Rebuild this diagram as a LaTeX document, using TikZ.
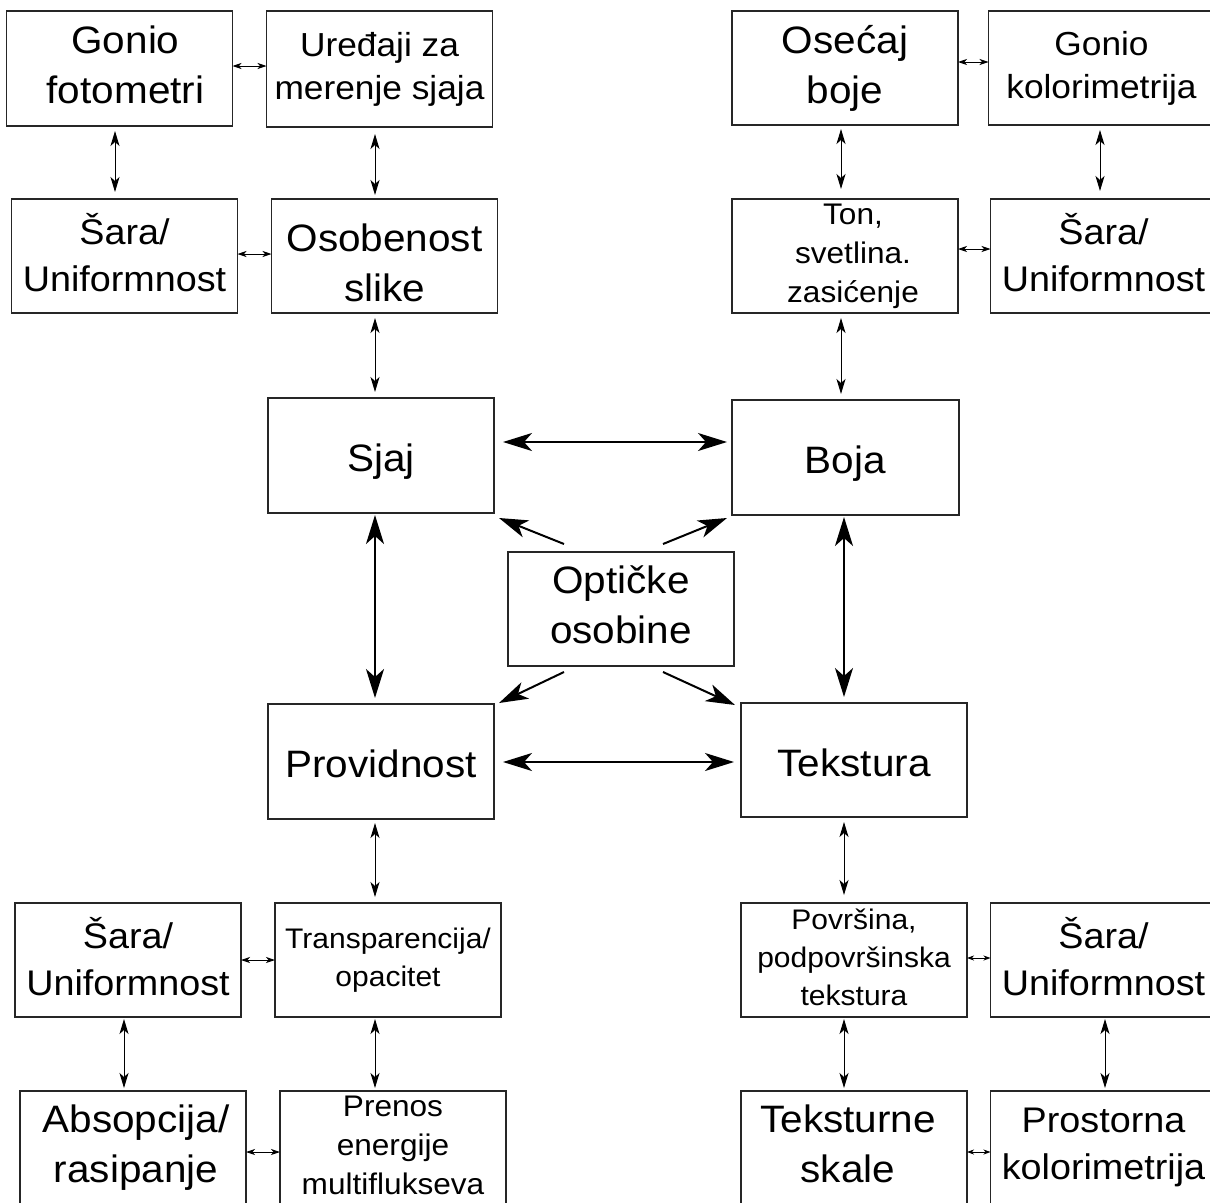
\documentclass[tikz,border=0pt]{standalone}
\usepackage{fontspec}
\setmainfont{Liberation Sans}[FakeStretch=1.06]
\usetikzlibrary{arrows.meta}
\newcommand{\lsh}[1]{\hspace*{#1}}
\begin{document}
\begin{tikzpicture}[x=1pt,y=-1pt,
  bx/.style={draw=black!85, line width=1.1pt, minimum width=226pt, minimum height=115pt,
    inner sep=0pt, outer sep=0pt, align=center,
    execute at begin node={\rule{0pt}{1.05em}},
    execute at end node={\rule[-0.212em]{0pt}{0pt}}},
  fa/.style={bx, font=\fontsize{38.2}{50}\selectfont},
  fb/.style={bx, font=\fontsize{35.6}{47}\selectfont},
  fc/.style={bx, font=\fontsize{33.3}{43}\selectfont},
  fd/.style={bx, font=\fontsize{29.8}{39}\selectfont},
  fe/.style={bx, font=\fontsize{28.3}{38}\selectfont},
  sv/.style={{Stealth[length=15pt,width=9pt,inset=4pt]}-{Stealth[length=15pt,width=9pt,inset=4pt]}, line width=1pt},
  th/.style={{Stealth[length=9pt,width=6pt,inset=2.5pt]}-{Stealth[length=9pt,width=6pt,inset=2.5pt]}, line width=0.9pt},
  tt/.style={{Stealth[length=7pt,width=5pt,inset=2pt]}-{Stealth[length=7pt,width=5pt,inset=2pt]}, line width=0.9pt},
  bv/.style={{Stealth[length=29pt,width=18pt,inset=8pt]}-{Stealth[length=29pt,width=18pt,inset=8pt]}, line width=2pt},
  bd/.style={-{Stealth[length=29pt,width=18pt,inset=8pt]}, line width=2pt}
]
\clip (0,0) rectangle (1210,1202);
\fill[white] (0,0) rectangle (1210,1202);

% top-left group
\node[fa] (gon) at (119.5,68.5) {\lsh{12pt}Gonio\\\lsh{12pt}fotometri};
\node[fc, minimum height=116pt] (ure) at (379.5,69) {Uređaji za\\merenje sjaja};
\node[fb, minimum height=114pt] (sar1) at (124.5,256) {Šara/\\Uniformnost};
\node[fa, minimum height=114pt] (oso) at (384.5,256) {\rule{0pt}{1.3em}Osobenost\\slike};

% top-right group
\node[fa, minimum height=114pt] (ose) at (845,68) {Osećaj\\boje};
\node[fc, minimum height=114pt] (gko) at (1101.5,68) {Gonio\\kolorimetrija};
\node[fd, minimum height=114pt] (ton) at (845,256) {\lsh{16pt}Ton,\\\lsh{16pt}svetlina.\\\lsh{16pt}zasićenje};
\node[fb, minimum height=114pt] (sar2) at (1103.5,256) {Šara/\\Uniformnost};

% centre
\node[fa] (sjaj) at (381,455.5) {Sjaj};
\node[fa, minimum width=227pt] (boja) at (845.5,457.5) {Boja};
\node[fa, minimum height=114pt] (opt) at (621,609) {Optičke\\osobine};
\node[fa] (prov) at (381,761.5) {Providnost};
\node[fa, minimum height=114pt] (tek) at (854,760) {Tekstura};

% bottom-left group
\node[fb, minimum height=114pt] (sar3) at (128,960) {Šara/\\Uniformnost};
\node[fe, minimum height=114pt] (tra) at (388,960) {Transparencija/\\opacitet};
\node[fa, minimum height=114pt] (abs) at (133,1148) {\lsh{6pt}Absopcija/\\\lsh{6pt}rasipanje};
\node[fd, minimum height=114pt] (pre) at (393,1148) {Prenos\\energije\\multiflukseva};

% bottom-right group
\node[fe, minimum height=114pt] (pov) at (854,960) {Površina,\\podpovršinska\\tekstura};
\node[fb, minimum height=114pt] (sar4) at (1103.5,960) {Šara/\\Uniformnost};
\node[fa, minimum height=114pt] (tks) at (854,1148) {Teksturne\lsh{12pt}\\skale\lsh{12pt}};
\node[fb, minimum height=114pt] (pro) at (1103.5,1148) {Prostorna\\kolorimetrija};

% small vertical arrows
\draw[sv, shorten <=5pt, shorten >=7pt] (gon.south -| 115,0) -- (sar1.north -| 115,0);
\draw[sv, shorten <=7pt, shorten >=4pt] (ure.south -| 375,0) -- (oso.north -| 375,0);
\draw[sv, shorten <=4pt, shorten >=10pt] (ose.south -| 841,0) -- (ton.north -| 841,0);
\draw[sv, shorten <=5pt, shorten >=8pt] (gko.south -| 1100,0) -- (sar2.north -| 1100,0);
\draw[sv, shorten <=5pt, shorten >=6pt] (oso.south -| 375,0) -- (sjaj.north -| 375,0);
\draw[sv, shorten <=5pt, shorten >=6pt] (ton.south -| 841,0) -- (boja.north -| 841,0);
\draw[sv, shorten <=4pt, shorten >=6pt] (prov.south -| 375,0) -- (tra.north -| 375,0);
\draw[sv, shorten <=5pt, shorten >=8pt] (tek.south -| 844,0) -- (pov.north -| 844,0);
\draw[sv, shorten <=2pt, shorten >=3pt] (sar3.south -| 124,0) -- (abs.north -| 124,0);
\draw[sv, shorten <=2pt, shorten >=3pt] (tra.south -| 375,0) -- (pre.north -| 375,0);
\draw[sv, shorten <=2pt, shorten >=3pt] (pov.south -| 844,0) -- (tks.north -| 844,0);
\draw[sv, shorten <=2pt, shorten >=3pt] (sar4.south -| 1105,0) -- (pro.north -| 1105,0);

% tiny horizontal arrows
\draw[th] (gon.east |- 0,66) -- (ure.west |- 0,66);
\draw[th] (sar1.east |- 0,254) -- (oso.west |- 0,254);
\draw[th] (ose.east |- 0,62) -- (gko.west |- 0,62);
\draw[th] (ton.east |- 0,249) -- (sar2.west |- 0,249);
\draw[th] (sar3.east |- 0,960) -- (tra.west |- 0,960);
\draw[th] (abs.east |- 0,1152) -- (pre.west |- 0,1152);
\draw[tt] (pov.east |- 0,958) -- (sar4.west |- 0,958);
\draw[tt] (tks.east |- 0,1152) -- (pro.west |- 0,1152);

% big arrows
\draw[bv, shorten <=9pt, shorten >=5pt] (sjaj.east |- 0,442) -- (boja.west |- 0,442);
\draw[bv, shorten <=9pt, shorten >=7pt] (prov.east |- 0,762) -- (tek.west |- 0,762);
\draw[bv, shorten <=2pt, shorten >=6pt] (sjaj.south -| 375,0) -- (prov.north -| 375,0);
\draw[bv, shorten <=2pt, shorten >=6pt] (boja.south -| 844,0) -- (tek.north -| 844,0);

% diagonal arrows from Opticke osobine
\draw[bd] ([xshift=-57pt,yshift=8pt]opt.north) -- ([xshift=5pt,yshift=-5pt]sjaj.south east);
\draw[bd] ([xshift=42pt,yshift=8pt]opt.north) -- ([xshift=-5pt,yshift=-3pt]boja.south west);
\draw[bd] ([xshift=-57pt,yshift=-6pt]opt.south) -- ([xshift=5pt,yshift=1pt]prov.north east);
\draw[bd] ([xshift=42pt,yshift=-6pt]opt.south) -- ([xshift=-6pt,yshift=-2pt]tek.north west);
\end{tikzpicture}
\end{document}
